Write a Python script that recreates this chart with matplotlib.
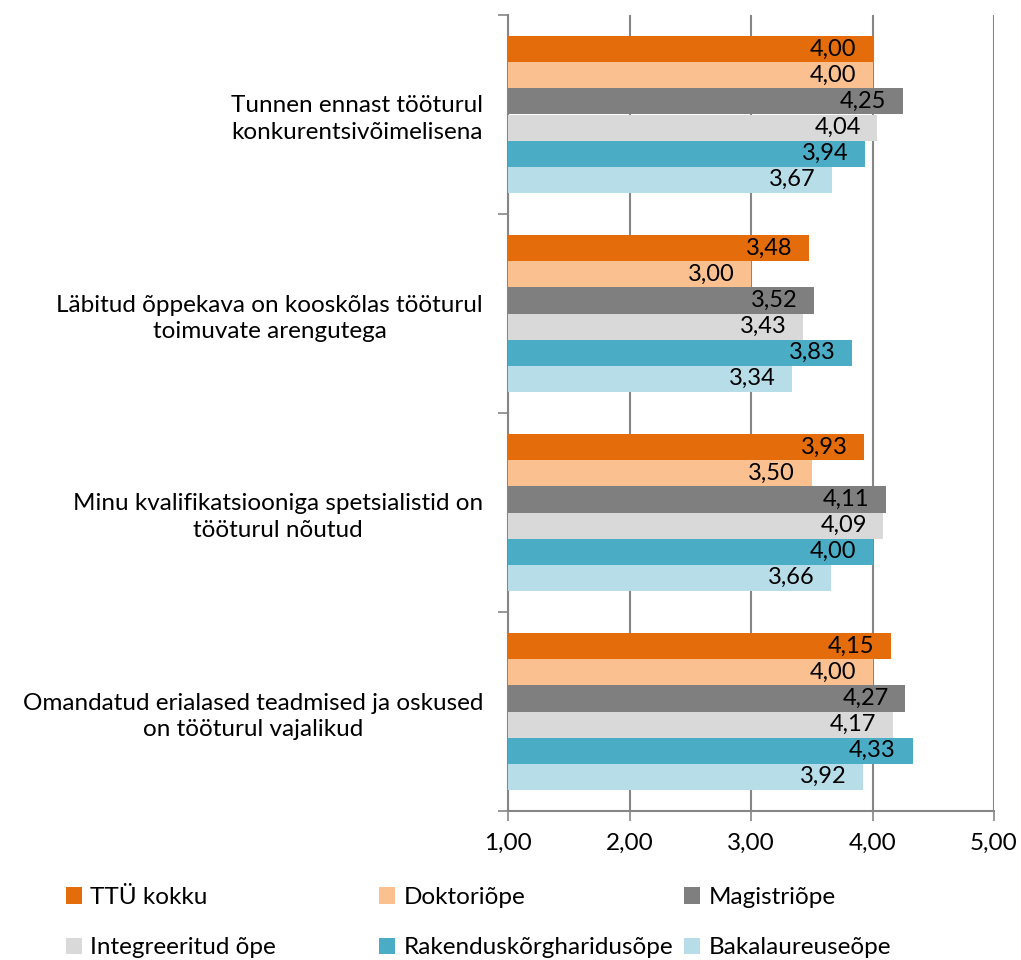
import matplotlib
matplotlib.use("Agg")
import matplotlib.pyplot as plt
from matplotlib.patches import Patch
import numpy as np

plt.rcParams['font.family'] = ['Lato', 'DejaVu Sans']

categories = [
    "Tunnen ennast tööturul\nkonkurentsivõimelisena",
    "Läbitud õppekava on kooskõlas tööturul\ntoimuvate arengutega",
    "Minu kvalifikatsiooniga spetsialistid on\ntööturul nõutud",
    "Omandatud erialased teadmised ja oskused\non tööturul vajalikud",
]
series_names = ["TTÜ kokku", "Doktoriõpe", "Magistriõpe",
                "Integreeritud õpe", "Rakenduskõrgharidusõpe", "Bakalaureuseõpe"]
ttu_kokku = [4.00, 3.48, 3.93, 4.15]
doktoriope = [4.00, 3.00, 3.50, 4.00]
magistriope = [4.25, 3.52, 4.11, 4.27]
integreeritud = [4.04, 3.43, 4.09, 4.17]
rakendus = [3.94, 3.83, 4.00, 4.33]
bakalaureus = [3.67, 3.34, 3.66, 3.92]
series_values = [ttu_kokku, doktoriope, magistriope, integreeritud, rakendus, bakalaureus]
colors = ["#E46C0A", "#FAC090", "#7F7F7F", "#D9D9D9", "#4BACC6", "#B7DEE8"]
xticks = [1, 2, 3, 4, 5]
xticklabels = ["1,00", "2,00", "3,00", "4,00", "5,00"]

FS = 17.5
DFS = 17
fig = plt.figure(figsize=(10.21, 9.6), dpi=100)
ax = fig.add_axes([508/1021, 1-811/960, (994-508)/1021, (811-15)/960])

n = len(categories)
h = 26/198
centers = np.arange(n) + 0.5
for k, (vals, c) in enumerate(zip(series_values, colors)):
    y = centers + (k - 2.5) * h
    ax.barh(y, np.array(vals) - 1, left=1, height=h, color=c, zorder=3)
    for yy, v in zip(y, vals):
        ax.annotate(f"{v:.2f}".replace('.', ','), xy=(v, yy), xytext=(-12, 0),
                    textcoords='offset points', ha='right', va='center',
                    fontsize=DFS, color='black', zorder=4)

ax.set_xlim(1, 5)
ax.set_ylim(n, 0)
ax.set_xticks(xticks)
ax.set_xticklabels(xticklabels, fontsize=FS)
ax.xaxis.grid(True, color='#868686', linewidth=1.5, zorder=0)
ax.set_axisbelow(True)
ax.set_yticks(np.arange(n + 1))
ax.set_yticklabels([])
ax.set_yticks(centers, minor=True)
ax.set_yticklabels(categories, minor=True, fontsize=FS, ha='right',
                   multialignment='center', linespacing=1.3)
ax.tick_params(axis='y', which='minor', length=0, pad=18)
ax.tick_params(axis='y', which='major', length=7, width=1.2, color='#868686')
ax.tick_params(axis='x', length=7, width=1.2, color='#868686', pad=9)
for s in ['top', 'right']:
    ax.spines[s].set_visible(False)
for s in ['left', 'bottom']:
    ax.spines[s].set_color('#868686')
    ax.spines[s].set_linewidth(1.5)

handles = [Patch(facecolor=c, edgecolor='none') for c in colors]
col_x = [66/1021, 379/1021, 684/1021]
for j in range(3):
    idx = [j, j + 3]
    fig.legend([handles[i] for i in idx], [series_names[i] for i in idx],
               loc='upper left', bbox_to_anchor=(col_x[j], 1-887/960),
               frameon=False, fontsize=FS, handlelength=0.65, handleheight=0.65,
               handletextpad=0.35, borderpad=0, borderaxespad=0, labelspacing=1.2)

fig.savefig("out.png", dpi=100)
